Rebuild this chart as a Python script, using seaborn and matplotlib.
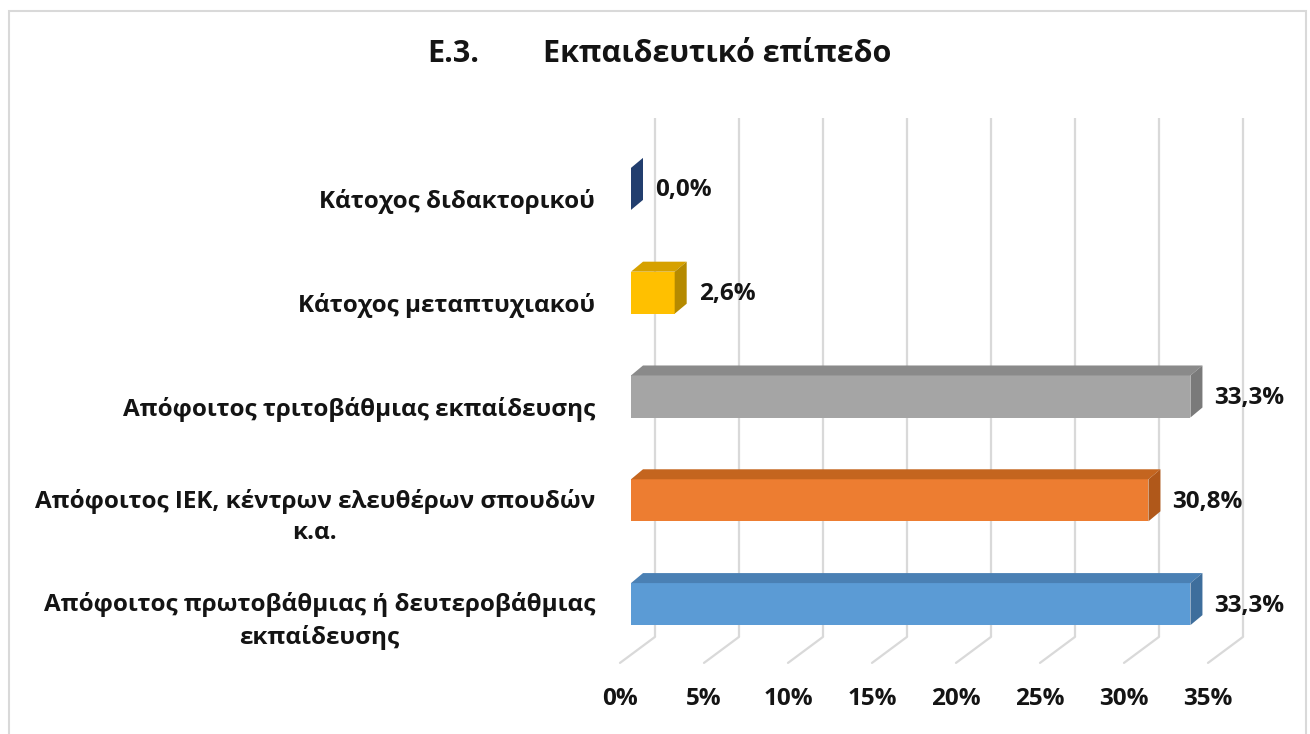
import matplotlib
matplotlib.use("Agg")
import matplotlib.pyplot as plt
from matplotlib.patches import Polygon, Rectangle
from matplotlib.transforms import ScaledTranslation
import seaborn as sns
import pandas as pd

# --- data -------------------------------------------------------------
categories = [
    "Κάτοχος διδακτορικού",
    "Κάτοχος μεταπτυχιακού",
    "Απόφοιτος τριτοβάθμιας εκπαίδευσης",
    "Απόφοιτος ΙΕΚ, κέντρων ελευθέρων σπουδών κ.α.",
    "Απόφοιτος πρωτοβάθμιας ή δευτεροβάθμιας εκπαίδευσης",
]
category_labels = [
    "Κάτοχος διδακτορικού",
    "Κάτοχος μεταπτυχιακού",
    "Απόφοιτος τριτοβάθμιας εκπαίδευσης",
    "Απόφοιτος ΙΕΚ, κέντρων ελευθέρων σπουδών\nκ.α.",
    "Απόφοιτος πρωτοβάθμιας ή δευτεροβάθμιας\nεκπαίδευσης",
]
values = [0.0, 2.6, 33.3, 30.8, 33.3]
x_ticks = [0, 5, 10, 15, 20, 25, 30, 35]
x_tick_labels = ["0%", "5%", "10%", "15%", "20%", "25%", "30%", "35%"]
title_num = "Ε.3."
title_text = "Εκπαιδευτικό επίπεδο"

# face colours: front, top, side
front_colors = ["#264478", "#FFC000", "#A5A5A5", "#ED7D31", "#5B9BD5"]
top_colors = ["#2B4C86", "#D6A100", "#8A8A8A", "#C4651F", "#4A80B4"]
side_colors = ["#223E6E", "#B58A00", "#7A7A7A", "#B0581A", "#3E6E9C"]

TEXT = "#141414"
FS = 17.5

# --- figure -------------------------------------------------------------
W, H = 1310, 734
sns.set_theme(style="white")
plt.rcParams["font.family"] = ["Open Sans", "DejaVu Sans"]
plt.rcParams["font.weight"] = "bold"

fig = plt.figure(figsize=(W / 100, H / 100), dpi=100)
fig.patch.set_facecolor("white")

# axes box in pixels: x 631..1219 (0..35 %), y 137..656
ax = fig.add_axes([631 / W, (H - 656) / H, 588 / W, 519 / H])
ax.set_facecolor("none")

df = pd.DataFrame({"cat": categories, "val": values})
sns.barplot(data=df, x="val", y="cat", hue="cat", palette=front_colors,
            orient="h", width=0.405, saturation=1, legend=False,
            linewidth=0, ax=ax, zorder=3)

ax.set_xlim(0, 35)
ax.set_ylim(4.5, -0.5)

px_x = 588 / 35.0          # pixels per percent
px_y = 519 / 5.0           # pixels per category step
DX = 12 / px_x             # bar depth, horizontal
DY = 10 / px_y             # bar depth, vertical (upwards)

# 3-D faces for every bar
for patch in list(ax.patches):
    x0 = patch.get_x()
    w = patch.get_width()
    y0 = patch.get_y()
    h = patch.get_height()
    x1 = x0 + w
    ytop, ybot = y0, y0 + h
    idx = int(round(y0 + h / 2))
    top = Polygon([(x0, ytop), (x1, ytop), (x1 + DX, ytop - DY), (x0 + DX, ytop - DY)],
                  closed=True, facecolor=top_colors[idx], edgecolor="none", zorder=3)
    side = Polygon([(x1, ytop), (x1, ybot), (x1 + DX, ybot - DY), (x1 + DX, ytop - DY)],
                   closed=True, facecolor=side_colors[idx], edgecolor="none", zorder=3)
    ax.add_patch(top)
    ax.add_patch(side)
    label = f"{values[idx]:.1f}%".replace(".", ",")
    ax.text(x1 + 24 / px_x, ytop + h / 2 + 1.5 / px_y, label, ha="left", va="center",
            fontsize=FS, fontweight="bold", color=TEXT, zorder=4)

# back wall gridlines and floor diagonals
GX = 24 / px_x
FX = -11 / px_x
y_wall_top = (118 - 189) / px_y
y_floor_back = (637 - 189) / px_y
y_floor_front = (663 - 189) / px_y
for t in x_ticks:
    ax.plot([t + GX, t + GX], [y_wall_top, y_floor_back], color="#D9D9D9",
            lw=1.6, clip_on=False, zorder=1, solid_capstyle="butt")
    ax.plot([t + GX, t + FX], [y_floor_back, y_floor_front], color="#D9D9D9",
            lw=1.6, clip_on=False, zorder=1)

# ticks
ax.set_xticks(x_ticks)
ax.set_xticklabels(x_tick_labels, fontsize=FS, fontweight="bold", color=TEXT)
ax.tick_params(axis="x", length=0, pad=22)
for lab in ax.get_xticklabels():
    lab.set_transform(lab.get_transform() + ScaledTranslation(-11 / 100, 0, fig.dpi_scale_trans))

ax.set_yticks(range(len(categories)))
ax.set_yticklabels(category_labels, fontsize=FS, fontweight="bold", color=TEXT)
ax.tick_params(axis="y", length=0, pad=26)
for lab in ax.get_yticklabels():
    lab.set_multialignment("center")
    lab.set_linespacing(1.4)
    lab.set_transform(lab.get_transform() + ScaledTranslation(0, -10 / 100, fig.dpi_scale_trans))

ax.set_xlabel("")
ax.set_ylabel("")
for s in ax.spines.values():
    s.set_visible(False)
ax.grid(False)

# title
fig.text(427 / W, 1 - 54 / H, title_num, ha="left", va="center",
         fontsize=22, fontweight="bold", color=TEXT)
fig.text(543 / W, 1 - 54 / H, title_text, ha="left", va="center",
         fontsize=22, fontweight="bold", color=TEXT)

# chart frame
fig.patches.append(Rectangle((9 / W, -0.02), (1306 - 9) / W, (H - 11) / H + 0.02,
                             transform=fig.transFigure, fill=False,
                             edgecolor="#D9D9D9", lw=1.5))

fig.savefig("out.png", dpi=100)
